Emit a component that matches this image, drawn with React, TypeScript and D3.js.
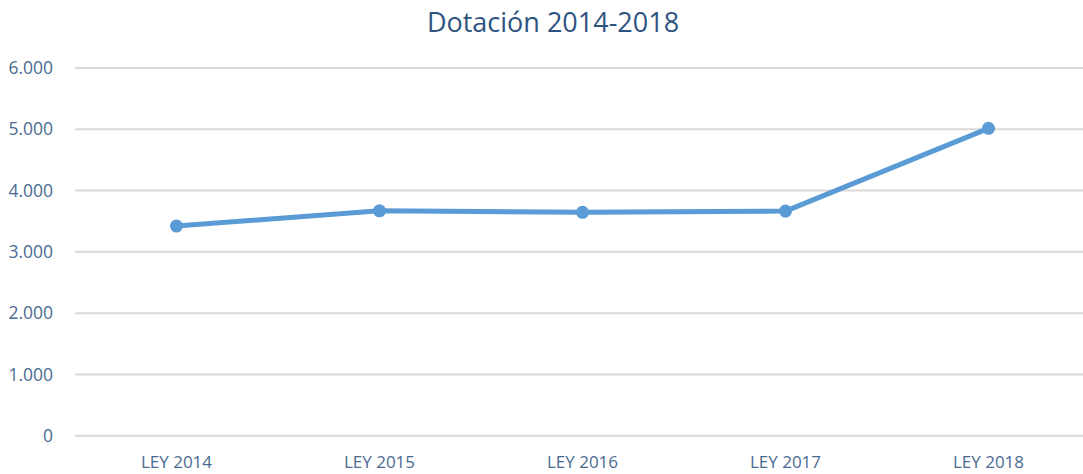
import React from "react";
import * as d3 from "d3";

const categories = ["LEY 2014", "LEY 2015", "LEY 2016", "LEY 2017", "LEY 2018"];
const values = [3420, 3670, 3645, 3665, 5015];
const yTicks = [0, 1000, 2000, 3000, 4000, 5000, 6000];
const title = "Dotación 2014-2018";

const W = 1083;
const H = 474;

export default function App() {
  const x = d3.scaleBand<string>().domain(categories).range([75, 1090]);
  const y = d3.scaleLinear().domain([0, 6000]).range([435.7, 68]);
  const fmt = (v: number) => d3.format(",")(v).replace(/,/g, ".");
  const line = d3
    .line<number>()
    .x((_, i) => (x(categories[i]) as number) + x.bandwidth() / 2)
    .y((d) => y(d));
  const font = "'Open Sans', sans-serif";
  return (
    <svg
      width={W}
      height={H}
      style={{ position: "absolute", left: 0, top: 0, background: "#fff" }}
      fontFamily={font}
    >
      <text x={553} y={32} textAnchor="middle" fontSize={27} fill="#2e5380">
        {title}
      </text>
      {yTicks.map((t) => (
        <g key={t}>
          <line x1={75} x2={W} y1={y(t)} y2={y(t)} stroke="#d9d9d9" strokeWidth={2} />
          <text x={53} y={y(t)} dy="0.35em" textAnchor="end" fontSize={17.5} fill="#4a6b91">
            {fmt(t)}
          </text>
        </g>
      ))}
      {categories.map((c) => (
        <text
          key={c}
          x={(x(c) as number) + x.bandwidth() / 2}
          y={468}
          textAnchor="middle"
          fontSize={17}
          fill="#4a6b91"
        >
          {c}
        </text>
      ))}
      <path d={line(values) || ""} fill="none" stroke="#5b9bd5" strokeWidth={5} strokeLinejoin="round" />
      {values.map((v, i) => (
        <circle
          key={i}
          cx={(x(categories[i]) as number) + x.bandwidth() / 2}
          cy={y(v)}
          r={6.5}
          fill="#5b9bd5"
        />
      ))}
    </svg>
  );
}
